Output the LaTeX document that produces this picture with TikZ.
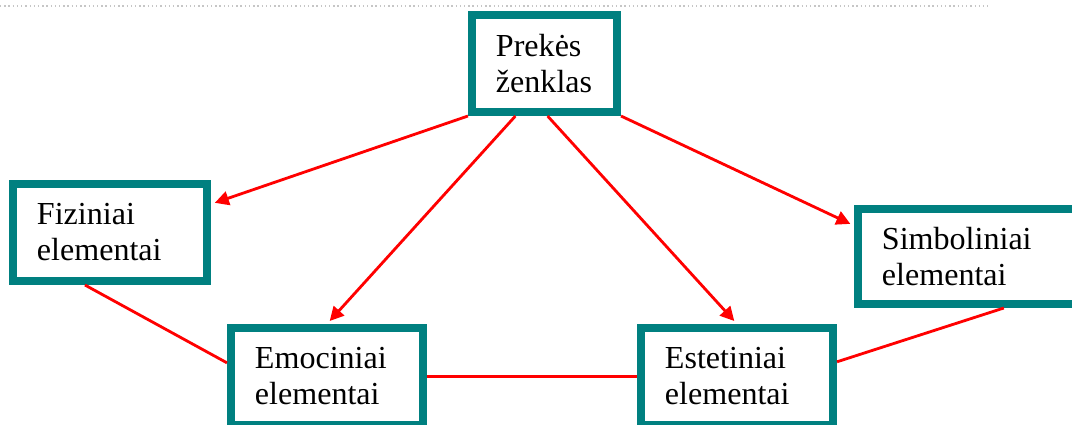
\documentclass[tikz,border=0pt]{standalone}
\usepackage{fontspec}
\setmainfont{Liberation Serif}
\usetikzlibrary{arrows.meta,calc}
\definecolor{boxteal}{HTML}{008080}

\begin{document}
\begin{tikzpicture}[x=0.025cm, y=-0.025cm,
  elembox/.style={rectangle, draw=boxteal, line width=0.2cm, fill=white,
    align=left, inner xsep=0.6cm, inner ysep=0pt, minimum height=2.425cm,
    font=\fontsize{22.8}{25.6}\selectfont},
  linkarrow/.style={red, line width=2pt,
    -{Triangle[length=0.35cm,width=0.35cm]}, shorten >=0.1cm},
  linkline/.style={red, line width=2pt}]
  \useasboundingbox (0,0) rectangle (1072,425);
  % dotted rule along the top
  \draw[gray!45, dotted, line width=1pt] (0,6) -- (988,6);
  % draw element boxes
  \node[elembox, minimum width=3.625cm, text width=2.425cm] (prekes) at (544.5,63.5) {Prekės\\ženklas};
  \node[elembox, minimum width=4.85cm, text width=3.65cm] (fiziniai) at (110,232.5) {Fiziniai\\elementai};
  \node[elembox, minimum width=4.8cm, text width=3.6cm] (emociniai) at (327,376.5) {Emociniai\\elementai};
  \node[elembox, minimum width=4.8cm, text width=3.6cm] (estetiniai) at (737,376.5) {Estetiniai\\elementai};
  \node[elembox, minimum width=5.475cm, minimum height=2.375cm, text width=4.275cm] (simboliniai) at (967.5,256.5) {Simboliniai\\elementai};
  % draw red arrows from the top box
  \draw[linkarrow] (prekes.south west) -- ($(fiziniai.north east)!0.23!(fiziniai.south east)$);
  \draw[linkarrow] ($(prekes.south west)!0.31!(prekes.south east)$) -- (emociniai.north);
  \draw[linkarrow] ($(prekes.south west)!0.52!(prekes.south east)$) -- (estetiniai.north);
  \draw[linkarrow] (prekes.south east) -- ($(simboliniai.north west)!0.2!(simboliniai.south west)$);
  % draw red links between the elements
  \draw[linkline] ($(fiziniai.south west)!0.376!(fiziniai.south east)$) -- ($(emociniai.north west)!0.37!(emociniai.south west)$);
  \draw[linkline] (emociniai.east) -- (estetiniai.west);
  \draw[linkline] ($(estetiniai.north east)!0.36!(estetiniai.south east)$) -- ($(simboliniai.south west)!0.66!(simboliniai.south east)$);
\end{tikzpicture}
\end{document}
